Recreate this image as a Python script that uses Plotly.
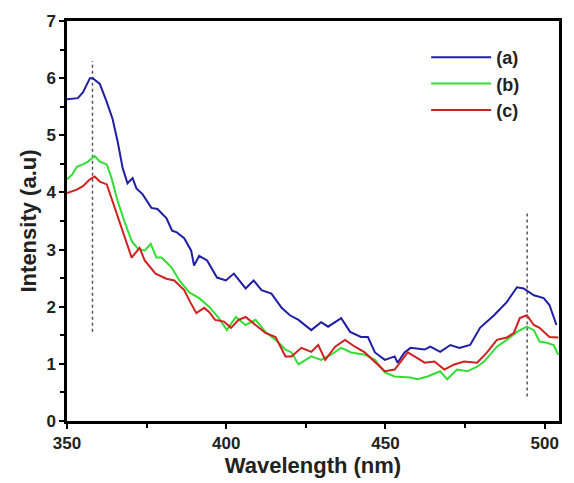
import plotly.graph_objects as go

# ---- data ----
wl_a = [350, 353.4, 355, 357.2, 358.1, 360.3, 362.5, 364.3, 365.9, 367.5, 369, 370.6, 371.8,
        373.7, 376.5, 378.4, 381.2, 383, 384.5, 386.8, 389, 389.9, 391.5, 394, 397.1, 399.9,
        402.4, 406.1, 408.6, 411.1, 414.2, 417.4, 420, 422.7, 426.7, 429.8, 432, 436.1, 438.9,
        442.3, 444.5, 446.7, 449.8, 452.9, 453.8, 456, 457.9, 462.3, 464.1, 467.2, 470.4,
        473.2, 476.6, 479.7, 484.1, 488.1, 491.3, 493.4, 496.6, 499.7, 501.5, 503.7]
int_a = [5.63, 5.65, 5.75, 6.0, 6.0, 5.9, 5.58, 5.29, 4.89, 4.42, 4.16, 4.25, 4.07,
         3.97, 3.73, 3.71, 3.55, 3.33, 3.30, 3.2, 2.98, 2.72, 2.89, 2.81, 2.51, 2.46,
         2.58, 2.32, 2.46, 2.29, 2.23, 1.98, 1.85, 1.77, 1.59, 1.73, 1.65, 1.8, 1.56,
         1.47, 1.47, 1.2, 1.07, 1.13, 1.02, 1.2, 1.28, 1.25, 1.3, 1.21, 1.33,
         1.28, 1.33, 1.63, 1.85, 2.08, 2.34, 2.32, 2.2, 2.15, 2.03, 1.68]

wl_b = [350, 351.6, 353.1, 355, 356.6, 358.7, 360.3, 362.5, 364, 365.9, 368, 370.3, 372.2,
        374.4, 376.3, 378.1, 379.7, 382.8, 385.3, 388.4, 391.5, 394.6, 397.7, 400.2, 403,
        406.1, 409.2, 412.3, 415.5, 418.6, 420.5, 422.7, 426.7, 429.8, 432.9, 436.1, 439.2,
        443.5, 446.7, 449.8, 452.9, 457.9, 460.1, 463.2, 467.2, 469.4, 472.5, 475.7, 478.8,
        481, 485, 488.1, 491.3, 494.4, 496.6, 498.4, 500.6, 502.8, 504.3]
int_b = [4.23, 4.31, 4.45, 4.49, 4.54, 4.64, 4.54, 4.49, 4.25, 3.85, 3.5, 3.15, 3.02,
         2.98, 3.1, 2.86, 2.86, 2.69, 2.46, 2.25, 2.15, 2.0, 1.8, 1.59, 1.82,
         1.68, 1.77, 1.56, 1.42, 1.25, 1.2, 0.99, 1.13, 1.07, 1.16, 1.28, 1.2,
         1.16, 1.07, 0.85, 0.78, 0.76, 0.73, 0.78, 0.87, 0.73, 0.9, 0.87, 0.95,
         1.04, 1.3, 1.42, 1.56, 1.65, 1.59, 1.39, 1.37, 1.33, 1.16]

wl_c = [350, 353.1, 355, 357.2, 358.7, 360.3, 362.5, 364.3, 366.5, 368.7, 370.3, 372.8,
        374.4, 377.8, 381.2, 383.7, 386.8, 388.7, 390.6, 393.1, 394.6, 396.5, 399.3, 401.5,
        403.9, 406.1, 409.2, 412.3, 415.5, 418.6, 420.5, 423.6, 426.7, 428.9, 431.1, 434.2,
        437.3, 440.4, 443.5, 446.7, 449.8, 452.9, 454.8, 457, 459.1, 462.3, 465.4, 468.5,
        471.6, 474.7, 478.8, 481.9, 485, 488.1, 490.3, 492.2, 494.4, 496.6, 498.4, 501.5, 504.3]
int_c = [3.99, 4.05, 4.11, 4.23, 4.28, 4.19, 4.14, 3.85, 3.5, 3.15, 2.86, 3.03,
         2.81, 2.58, 2.49, 2.46, 2.29, 2.08, 1.89, 1.98, 1.91, 1.77, 1.74, 1.63,
         1.77, 1.82, 1.68, 1.54, 1.47, 1.13, 1.13, 1.28, 1.21, 1.33, 1.07, 1.3,
         1.42, 1.3, 1.2, 1.04, 0.87, 0.9, 1.04, 1.2, 1.13, 1.02, 1.04, 0.9,
         0.99, 1.04, 1.02, 1.2, 1.42, 1.46, 1.54, 1.8, 1.85, 1.68, 1.63, 1.47, 1.46]

series_names = ["(a)", "(b)", "(c)"]
series_colors = ["#1f1fa6", "#33dd33", "#d02020"]

peak_positions = [358, 494.5]
peak_low = [1.56, 0.43]
peak_high = [6.3, 3.67]

x_ticks = [350, 400, 450, 500]
y_ticks = [0, 1, 2, 3, 4, 5, 6, 7]

FONT = "Liberation Sans"

fig = go.Figure()

for xp, lo, hi in zip(peak_positions, peak_low, peak_high):
    fig.add_trace(go.Scatter(x=[xp, xp], y=[lo, hi], mode="lines",
                             line=dict(color="#555555", width=1.5, dash="dot"),
                             showlegend=False, hoverinfo="skip"))

for wl, vals, name, col in zip([wl_a, wl_b, wl_c], [int_a, int_b, int_c],
                               series_names, series_colors):
    fig.add_trace(go.Scatter(x=wl, y=vals, mode="lines", name=name,
                             line=dict(color=col, width=2)))

axis_common = dict(
    showline=True, linecolor="black", linewidth=2.5, mirror=True,
    showgrid=False, zeroline=False, ticks="outside", ticklen=5, tickwidth=2,
    tickcolor="black",
    tickfont=dict(family=FONT, size=17, color="#222222", weight="bold"),
)

fig.update_layout(
    width=574, height=483,
    margin=dict(l=67, r=12, t=18, b=61),
    plot_bgcolor="white", paper_bgcolor="white",
    xaxis=dict(range=[350, 504.5], tickvals=x_ticks,
               minor=dict(dtick=25, tick0=350, ticks="outside", ticklen=4, tickwidth=2, tickcolor="black"),
               title=dict(text="Wavelength (nm)", standoff=2,
                          font=dict(family=FONT, size=22, color="#222222", weight="bold")),
               **axis_common),
    yaxis=dict(range=[0, 7], tickvals=y_ticks,
               minor=dict(dtick=0.5, tick0=0, ticks="outside", ticklen=4, tickwidth=2, tickcolor="black"),
               title=dict(text="Intensity (a.u)", standoff=4,
                          font=dict(family=FONT, size=22, color="#222222", weight="bold")),
               **axis_common),
    legend=dict(x=0.73, y=0.955, xanchor="left", yanchor="top",
                bgcolor="rgba(0,0,0,0)", tracegroupgap=0, itemwidth=60,
                font=dict(family=FONT, size=18, color="#222222", weight="bold")),
    showlegend=True,
)

fig.write_html("out.html")
